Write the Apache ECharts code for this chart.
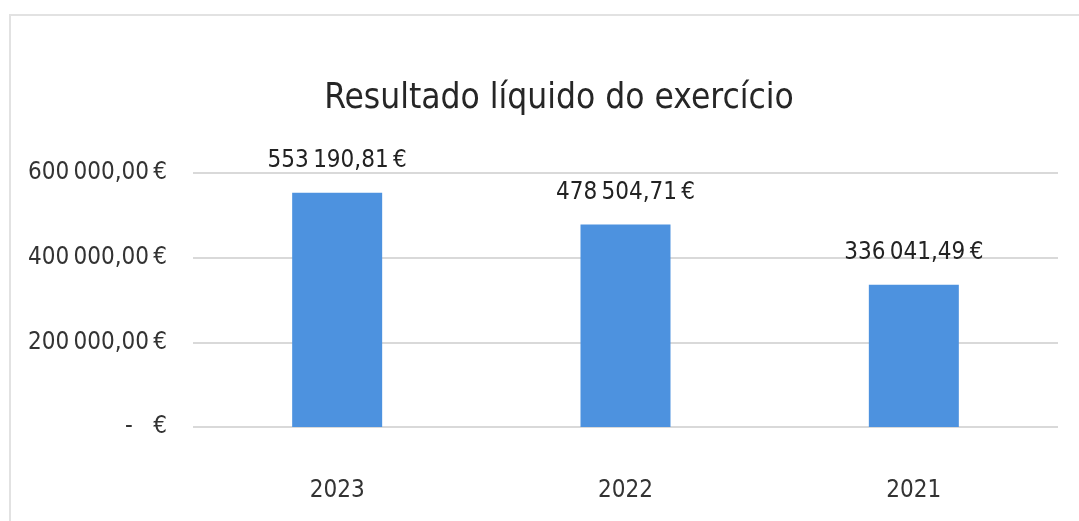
<!DOCTYPE html>
<html>
<head>
<meta charset="utf-8">
<script src="https://cdn.jsdelivr.net/npm/echarts@6/dist/echarts.min.js"></script>
<style>
  html, body { margin: 0; padding: 0; background: #fff; }
  #chart { width: 1079px; height: 521px; }
</style>
</head>
<body>
<div id="chart"></div>
<script>
var years = ['2023', '2022', '2021']
var resultados = [553190.81, 478504.71, 336041.49] // resultado líquido (€)
var yMax = 600000
var yStep = 200000

var FONT = '"Liberation Sans Narrow", "DejaVu Sans Condensed", "Noto Sans", sans-serif'
var SP = '\u2009' // espaço fino, como no original

// formato pt-PT: 553 190,81 €
function euro (v) {
  if (v === 0) return '-   €'
  var parts = v.toFixed(2).split('.')
  var inteiro = parts[0].replace(/\B(?=(\d{3})+(?!\d))/g, SP)
  return inteiro + ',' + parts[1] + SP + '€'
}

var myChart = echarts.init(document.getElementById('chart'))
var option = {
  backgroundColor: '#ffffff',
  title: {
    text: 'Resultado líquido do exercício',
    left: 554,
    textAlign: 'center',
    top: 76,
    textStyle: { fontFamily: FONT, fontSize: 35, fontWeight: 'normal', color: '#262626' }
  },
  graphic: [{
    type: 'rect',
    shape: { x: 10, y: 15, width: 1080, height: 520 },
    style: { fill: 'none', stroke: '#e2e2e2', lineWidth: 2 },
    silent: true
  }],
  grid: { left: 193, right: 21, top: 173, bottom: 94 },
  xAxis: {
    type: 'category',
    data: years,
    axisLine: { show: false },
    axisTick: { show: false },
    axisLabel: { fontFamily: FONT, fontSize: 24, color: '#333', margin: 52 }
  },
  yAxis: {
    type: 'value',
    min: 0,
    max: yMax,
    interval: yStep,
    axisLine: { show: false },
    axisTick: { show: false },
    axisLabel: {
      fontFamily: FONT, fontSize: 24, color: '#333', margin: 26,
      formatter: euro
    },
    splitLine: { lineStyle: { color: '#d9d9d9', width: 2 } }
  },
  series: [{
    type: 'bar',
    data: resultados,
    barWidth: 90,
    itemStyle: { color: '#4d92df' },
    label: {
      show: true,
      position: 'top',
      distance: 20,
      fontFamily: FONT,
      fontSize: 24,
      color: '#222',
      formatter: function (p) { return euro(p.value) }
    }
  }],
  animation: false
}
myChart.setOption(option)
</script>
</body>
</html>
